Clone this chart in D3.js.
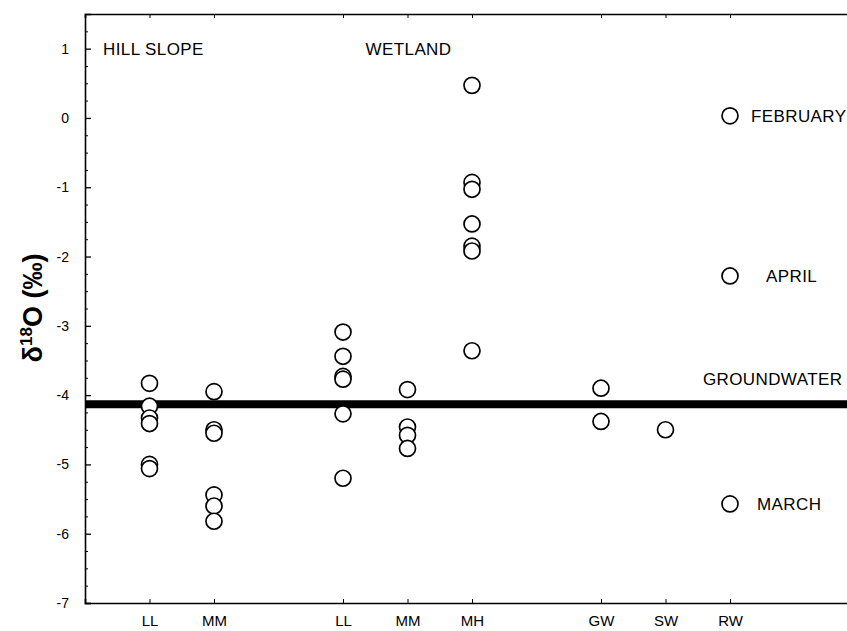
<!DOCTYPE html>
<html>
<head>
<meta charset="utf-8">
<script src="https://cdn.jsdelivr.net/npm/d3@7"></script>
<style>
  body { margin: 0; background: #fff; }
  text { font-family: "Liberation Sans", Arial, sans-serif; fill: #000; }
</style>
</head>
<body>
<div id="wrapper"></div>
<script>
// 1. Data
// slot = position along the x axis (gaps separate the site groups)
const categories = ["LL", "MM", "LL", "MM", "MH", "GW", "SW", "RW"]
const slots = [0, 1, 3, 4, 5, 7, 8, 9]

const hillLL = [-3.83, -4.16, -4.33, -4.41, -5.0, -5.06]
const hillMM = [-3.95, -4.5, -4.55, -5.44, -5.6, -5.82]
const wetLL = [-3.09, -3.44, -3.73, -3.77, -4.27, -5.2]
const wetMM = [-3.92, -4.46, -4.58, -4.77]
const wetMH = [0.47, -0.93, -1.03, -1.53, -1.85, -1.92, -3.36]
const gwValues = [-3.9, -4.38]
const swValues = [-4.5]
const rwValues = [0.03, -2.28, -5.57]
const rwMonths = ["FEBRUARY", "APRIL", "MARCH"]
const groundwater = -4.13

const yTicks = [-7, -6, -5, -4, -3, -2, -1, 0, 1]

const series = [hillLL, hillMM, wetLL, wetMM, wetMH, gwValues, swValues, rwValues]
const points = series.flatMap((vals, i) => vals.map(v => ({ slot: slots[i], value: v })))

// 2. Chart dimensions
let dimensions = {
  width: 847,
  height: 631,
  margin: { top: 14, right: -12, bottom: 28, left: 85 }
}
dimensions.boundedWidth = dimensions.width - dimensions.margin.left - dimensions.margin.right
dimensions.boundedHeight = dimensions.height - dimensions.margin.top - dimensions.margin.bottom

// 3. Draw canvas
const wrapper = d3.select("#wrapper")
  .append("svg")
  .attr("width", dimensions.width)
  .attr("height", dimensions.height)

const bounds = wrapper.append("g")
  .attr("transform", `translate(${dimensions.margin.left},${dimensions.margin.top})`)

// 4. Scales
const xScale = d3.scaleLinear()
  .domain([-1, 11])
  .range([0, dimensions.boundedWidth])

const yScale = d3.scaleLinear()
  .domain([-7, 1.5])
  .range([dimensions.boundedHeight, 0])

// 5. Peripherals
const yAxis = bounds.append("g")
  .call(d3.axisLeft(yScale).tickValues(yTicks).tickSize(-6).tickPadding(16).tickFormat(d => String(d)))
yAxis.select(".domain").attr("stroke-width", 1.6)
yAxis.selectAll(".tick line").attr("stroke-width", 1.3)
yAxis.selectAll("text").style("font-size", "14px").attr("fill", "#000")

const minorTicks = d3.range(-7, 1.51, 0.25).filter(d => !yTicks.includes(d))
bounds.append("g")
  .call(d3.axisLeft(yScale).tickValues(minorTicks).tickSize(-3).tickFormat(""))
  .call(g => g.select(".domain").remove())

const xAxis = bounds.append("g")
  .attr("transform", `translate(0,${dimensions.boundedHeight})`)
  .call(d3.axisBottom(xScale).tickValues(slots).tickSize(-4).tickPadding(12)
    .tickFormat((d, i) => categories[i]))
xAxis.select(".domain").attr("stroke-width", 1.6)
xAxis.selectAll("text").style("font-size", "15px").attr("fill", "#000")

bounds.append("g")
  .call(d3.axisTop(xScale).tickValues(slots).tickSize(-4).tickFormat(""))
  .select(".domain").attr("stroke-width", 1.6)

// groundwater line
bounds.append("line")
  .attr("x1", xScale(-1))
  .attr("x2", xScale(11))
  .attr("y1", yScale(groundwater))
  .attr("y2", yScale(groundwater))
  .attr("stroke", "#000")
  .attr("stroke-width", 8)

// 6. Draw data
bounds.append("g")
  .selectAll("circle")
  .data(points)
  .join("circle")
    .attr("cx", d => xScale(d.slot))
    .attr("cy", d => yScale(d.value))
    .attr("r", 8)
    .attr("fill", "#fff")
    .attr("stroke", "#000")
    .attr("stroke-width", 1.7)

// 7. Labels
const labelStyle = sel => sel.style("font-size", "17px").style("letter-spacing", "0.4px")

bounds.append("text")
  .attr("x", xScale(-0.72))
  .attr("y", yScale(1) + 6)
  .text("HILL SLOPE")
  .call(labelStyle)

bounds.append("text")
  .attr("x", xScale(3.35))
  .attr("y", yScale(1) + 6)
  .text("WETLAND")
  .call(labelStyle)

const monthDx = [21, 36, 27]
bounds.append("g")
  .selectAll("text")
  .data(rwValues)
  .join("text")
    .attr("x", (d, i) => xScale(slots[7]) + monthDx[i])
    .attr("y", d => yScale(d) + 6)
    .text((d, i) => rwMonths[i])
    .call(labelStyle)

bounds.append("text")
  .attr("x", xScale(8.58))
  .attr("y", yScale(groundwater) - 19)
  .text("GROUNDWATER")
  .call(labelStyle)

// y axis title
const yLabel = wrapper.append("text")
  .attr("transform", `translate(42,308) rotate(-90)`)
  .style("text-anchor", "middle")
  .style("font-size", "27px")
  .style("font-weight", "bold")
yLabel.append("tspan").text("δ")
yLabel.append("tspan").text("18").attr("dy", -10).style("font-size", "17px")
yLabel.append("tspan").text("O (‰)").attr("dy", 10)
</script>
</body>
</html>
